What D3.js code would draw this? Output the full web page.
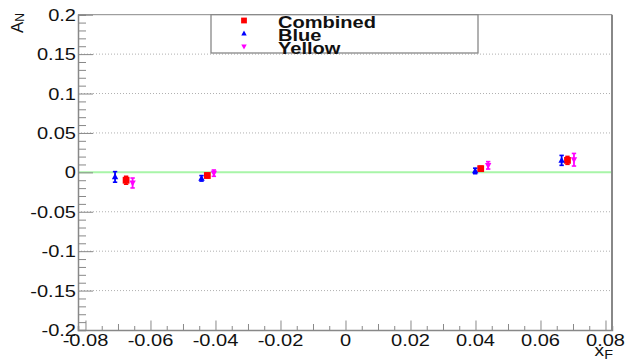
<!DOCTYPE html>
<html>
<head>
<meta charset="utf-8">
<script src="https://cdn.jsdelivr.net/npm/d3@7"></script>
<style>
  body { margin: 0; background: #fff; }
  text { font-family: "Liberation Sans", Arial, sans-serif; fill: #111; }
</style>
</head>
<body>
<svg id="chart" width="627" height="361"></svg>
<script>
// x_F positions and A_N values
var xCombined = [-0.0675, -0.0425, 0.0416, 0.0683];
var aCombined = [-0.0100, -0.0040, 0.0047, 0.0152];
var eCombined = [0.0050, 0.0030, 0.0030, 0.0050];

var xBlue = [-0.0709, -0.0443, 0.0399, 0.0665];
var aBlue = [-0.0058, -0.0076, 0.0018, 0.0152];
var eBlue = [0.0067, 0.0035, 0.0035, 0.0063];

var xYellow = [-0.0655, -0.0405, 0.0439, 0.0703];
var aYellow = [-0.0135, -0.0010, 0.0089, 0.0160];
var eYellow = [0.0063, 0.0040, 0.0047, 0.0080];

var xTicks = [-0.08, -0.06, -0.04, -0.02, 0, 0.02, 0.04, 0.06, 0.08];
var yTicks = [-0.2, -0.15, -0.1, -0.05, 0, 0.05, 0.1, 0.15, 0.2];
var legendNames = ['Combined', 'Blue', 'Yellow'];

var series = [
  {x: xCombined, a: aCombined, e: eCombined, color: '#ff0000', shape: 'square'},
  {x: xBlue, a: aBlue, e: eBlue, color: '#0000ff', shape: 'up'},
  {x: xYellow, a: aYellow, e: eYellow, color: '#ff00ff', shape: 'down'}
];

var frame = {left: 78, right: 612, top: 14.7, bottom: 330};
var stretch = 1.18; // picture is squeezed wider than tall

var svg = d3.select('#chart');

var xScale = d3.scaleLinear()
  .domain([-0.0823, 0.082])
  .range([frame.left, frame.right]);

var yScale = d3.scaleLinear()
  .domain([-0.2, 0.2])
  .range([frame.bottom, frame.top]);

// stretched text helper
function label(g, x, y, str, anchor, size, weight) {
  return g.append('text')
    .attr('transform', 'translate(' + x + ',' + y + ') scale(' + stretch + ',1)')
    .attr('text-anchor', anchor)
    .attr('font-size', size)
    .attr('font-weight', weight || 'normal')
    .text(str);
}

// dotted grid on y majors
svg.append('g')
  .selectAll('line')
  .data(yTicks.filter(function(d) { return d > -0.2 && d < 0.2 && d !== 0; }))
  .enter().append('line')
  .attr('x1', frame.left)
  .attr('x2', frame.right)
  .attr('y1', function(d) { return yScale(d); })
  .attr('y2', function(d) { return yScale(d); })
  .attr('stroke', '#b0b0b0')
  .attr('stroke-dasharray', '1,2');

// zero line
svg.append('line')
  .attr('x1', frame.left)
  .attr('x2', frame.right)
  .attr('y1', yScale(0))
  .attr('y2', yScale(0))
  .attr('stroke', '#a8f5a8')
  .attr('stroke-width', 2);

// frame top + right
svg.append('line')
  .attr('x1', frame.left).attr('x2', frame.right)
  .attr('y1', frame.top).attr('y2', frame.top)
  .attr('stroke', '#888');
svg.append('line')
  .attr('x1', frame.right).attr('x2', frame.right)
  .attr('y1', frame.top).attr('y2', frame.bottom)
  .attr('stroke', '#888').attr('stroke-width', 2);

// Y axis (ticks point inward)
var yAxis = d3.axisRight(yScale)
  .tickValues(d3.range(-20, 21).map(function(i) { return i / 100; }))
  .tickSize(8)
  .tickFormat('');
var gy = svg.append('g')
  .attr('transform', 'translate(' + frame.left + ',0)')
  .call(yAxis);
gy.selectAll('line')
  .attr('x2', function(d) { return Math.abs(Math.round(d * 100)) % 5 === 0 ? 15 : 8; });
gy.selectAll('line, path').attr('stroke', '#888');
gy.select('path').attr('stroke-width', 1.5);

yTicks.forEach(function(v) {
  label(svg, 76, yScale(v) + 6, d3.format('')(v).replace('−', '-'), 'end', 17);
});

// X axis (ticks point up)
var xAxis = d3.axisTop(xScale)
  .tickValues(d3.range(-16, 17).map(function(i) { return i * 0.005; }))
  .tickSize(4)
  .tickFormat('');
var gx = svg.append('g')
  .attr('transform', 'translate(0,' + frame.bottom + ')')
  .call(xAxis);
gx.selectAll('line')
  .attr('y2', function(d) {
    var k = Math.round(d * 1000);
    if (k % 20 === 0) return -9.5;
    if (k % 10 === 0) return -6;
    return -4;
  });
gx.selectAll('line, path').attr('stroke', '#888');
gx.select('path').attr('stroke-width', 1.5);

xTicks.forEach(function(v) {
  label(svg, xScale(v), 345.5, d3.format('')(v).replace('−', '-'), 'middle', 17);
});

// axis titles
var ty = svg.append('text')
  .attr('transform', 'translate(23,13) rotate(-90)')
  .attr('text-anchor', 'end')
  .attr('font-size', 17);
ty.append('tspan').text('A');
ty.append('tspan').attr('font-size', 12).attr('dy', 1).text('N');

var tx = svg.append('text')
  .attr('transform', 'translate(613,356) scale(1.2,1)')
  .attr('text-anchor', 'end')
  .attr('font-size', 16);
tx.append('tspan').text('x');
tx.append('tspan').attr('font-size', 12).attr('dy', 3).text('F');

// data
function markerPath(shape) {
  if (shape === 'square') return 'M-3.4,-3.4H3.4V3.4H-3.4Z';
  if (shape === 'up') return 'M0,-3.6L3.2,2.4H-3.2Z';
  return 'M0,3.6L3.2,-2.4H-3.2Z';
}

series.forEach(function(s) {
  var g = svg.append('g');
  var pts = s.x.map(function(x, i) { return {x: x, a: s.a[i], e: s.e[i]}; });
  var pt = g.selectAll('g').data(pts).enter().append('g');
  pt.append('line')
    .attr('x1', function(d) { return xScale(d.x); })
    .attr('x2', function(d) { return xScale(d.x); })
    .attr('y1', function(d) { return yScale(d.a + d.e); })
    .attr('y2', function(d) { return yScale(d.a - d.e); })
    .attr('stroke', s.color).attr('stroke-width', 1.8);
  [1, -1].forEach(function(sg) {
    pt.append('line')
      .attr('x1', function(d) { return xScale(d.x) - 2.2; })
      .attr('x2', function(d) { return xScale(d.x) + 2.2; })
      .attr('y1', function(d) { return yScale(d.a + sg * d.e); })
      .attr('y2', function(d) { return yScale(d.a + sg * d.e); })
      .attr('stroke', s.color).attr('stroke-width', 1.6);
  });
  pt.append('path')
    .attr('transform', function(d) { return 'translate(' + xScale(d.x) + ',' + yScale(d.a) + ')'; })
    .attr('d', markerPath(s.shape))
    .attr('fill', s.color);
});

// legend
var leg = svg.append('g');
leg.append('rect')
  .attr('x', 211).attr('y', frame.top)
  .attr('width', 267).attr('height', 38.3)
  .attr('fill', '#fff').attr('stroke', '#888').attr('stroke-width', 1.3);
legendNames.forEach(function(name, i) {
  var cy = 20.5 + i * 13;
  leg.append('path')
    .attr('transform', 'translate(244,' + cy + ') scale(0.85)')
    .attr('d', markerPath(series[i].shape))
    .attr('fill', series[i].color);
  label(leg, 278, 27.5 + i * 13, name, 'start', 17, 'bold');
});
</script>
</body>
</html>
